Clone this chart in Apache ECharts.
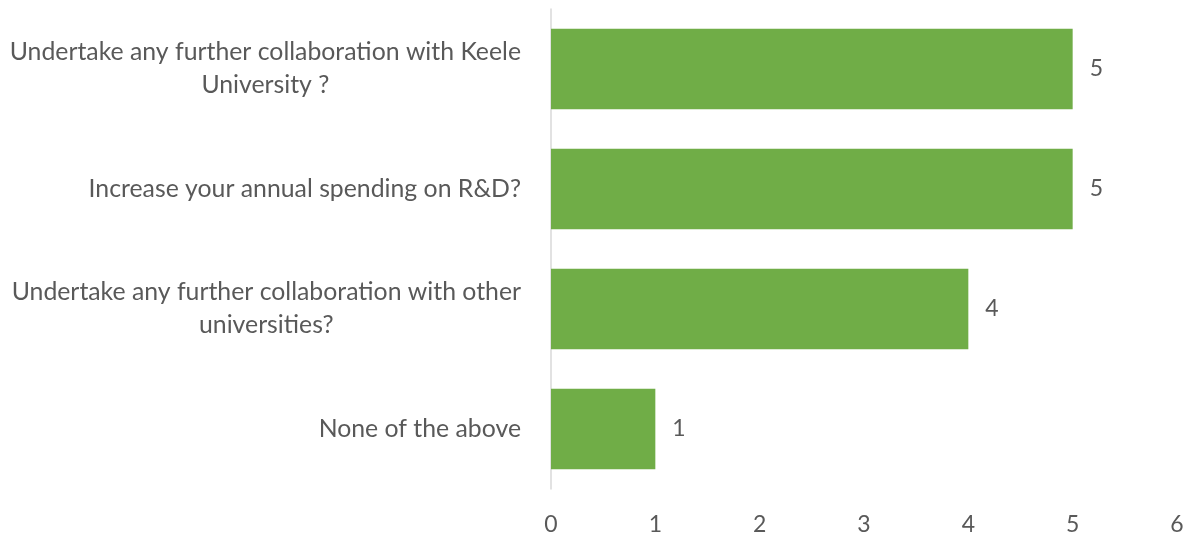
<!DOCTYPE html>
<html>
<head>
<meta charset="utf-8">
<script src="https://cdn.jsdelivr.net/npm/echarts@6/dist/echarts.min.js"></script>
<style>
  html, body { margin: 0; padding: 0; background: #ffffff; }
  #chart { width: 1192px; height: 537px; }
</style>
</head>
<body>
<div id="chart"></div>
<script>
// Survey question categories, listed top to bottom
const categories = [
  'Undertake any further collaboration with Keele\nUniversity ?',
  'Increase your annual spending on R&D?',
  'Undertake any further collaboration with other\nuniversities?',
  'None of the above'
];
// Number of responses for each category
const responses = [5, 5, 4, 1];
// Value axis ticks
const xTicks = [0, 1, 2, 3, 4, 5, 6];

const FONT = 'Lato, sans-serif';
const TEXT = '#595959';

const chart = echarts.init(document.getElementById('chart'), null, { renderer: 'canvas' });

chart.setOption({
  animation: false,
  grid: { left: 551, right: 15, top: 9, bottom: 48, containLabel: false },
  xAxis: {
    type: 'value',
    min: xTicks[0],
    max: xTicks[xTicks.length - 1],
    interval: 1,
    axisLine: { show: false },
    axisTick: { show: false },
    splitLine: { show: false },
    axisLabel: { color: TEXT, fontFamily: FONT, fontSize: 23, margin: 24 }
  },
  yAxis: {
    type: 'category',
    inverse: true,
    data: categories,
    axisLine: { show: true, lineStyle: { color: '#D9D9D9', width: 1.5 } },
    axisTick: { show: false },
    axisLabel: {
      margin: 30,
      align: 'right',
      formatter: v => v.split('\n').map(s => '{c|' + s + '}').join('\n'),
      rich: {
        c: { align: 'center', color: TEXT, fontFamily: FONT, fontSize: 24.8, lineHeight: 33 }
      }
    }
  },
  series: [{
    type: 'bar',
    data: responses,
    barCategoryGap: '33%',
    itemStyle: { color: '#70AD47' },
    label: {
      show: true,
      position: 'right',
      distance: 17,
      color: TEXT,
      fontFamily: FONT,
      fontSize: 23
    }
  }]
});
</script>
</body>
</html>
